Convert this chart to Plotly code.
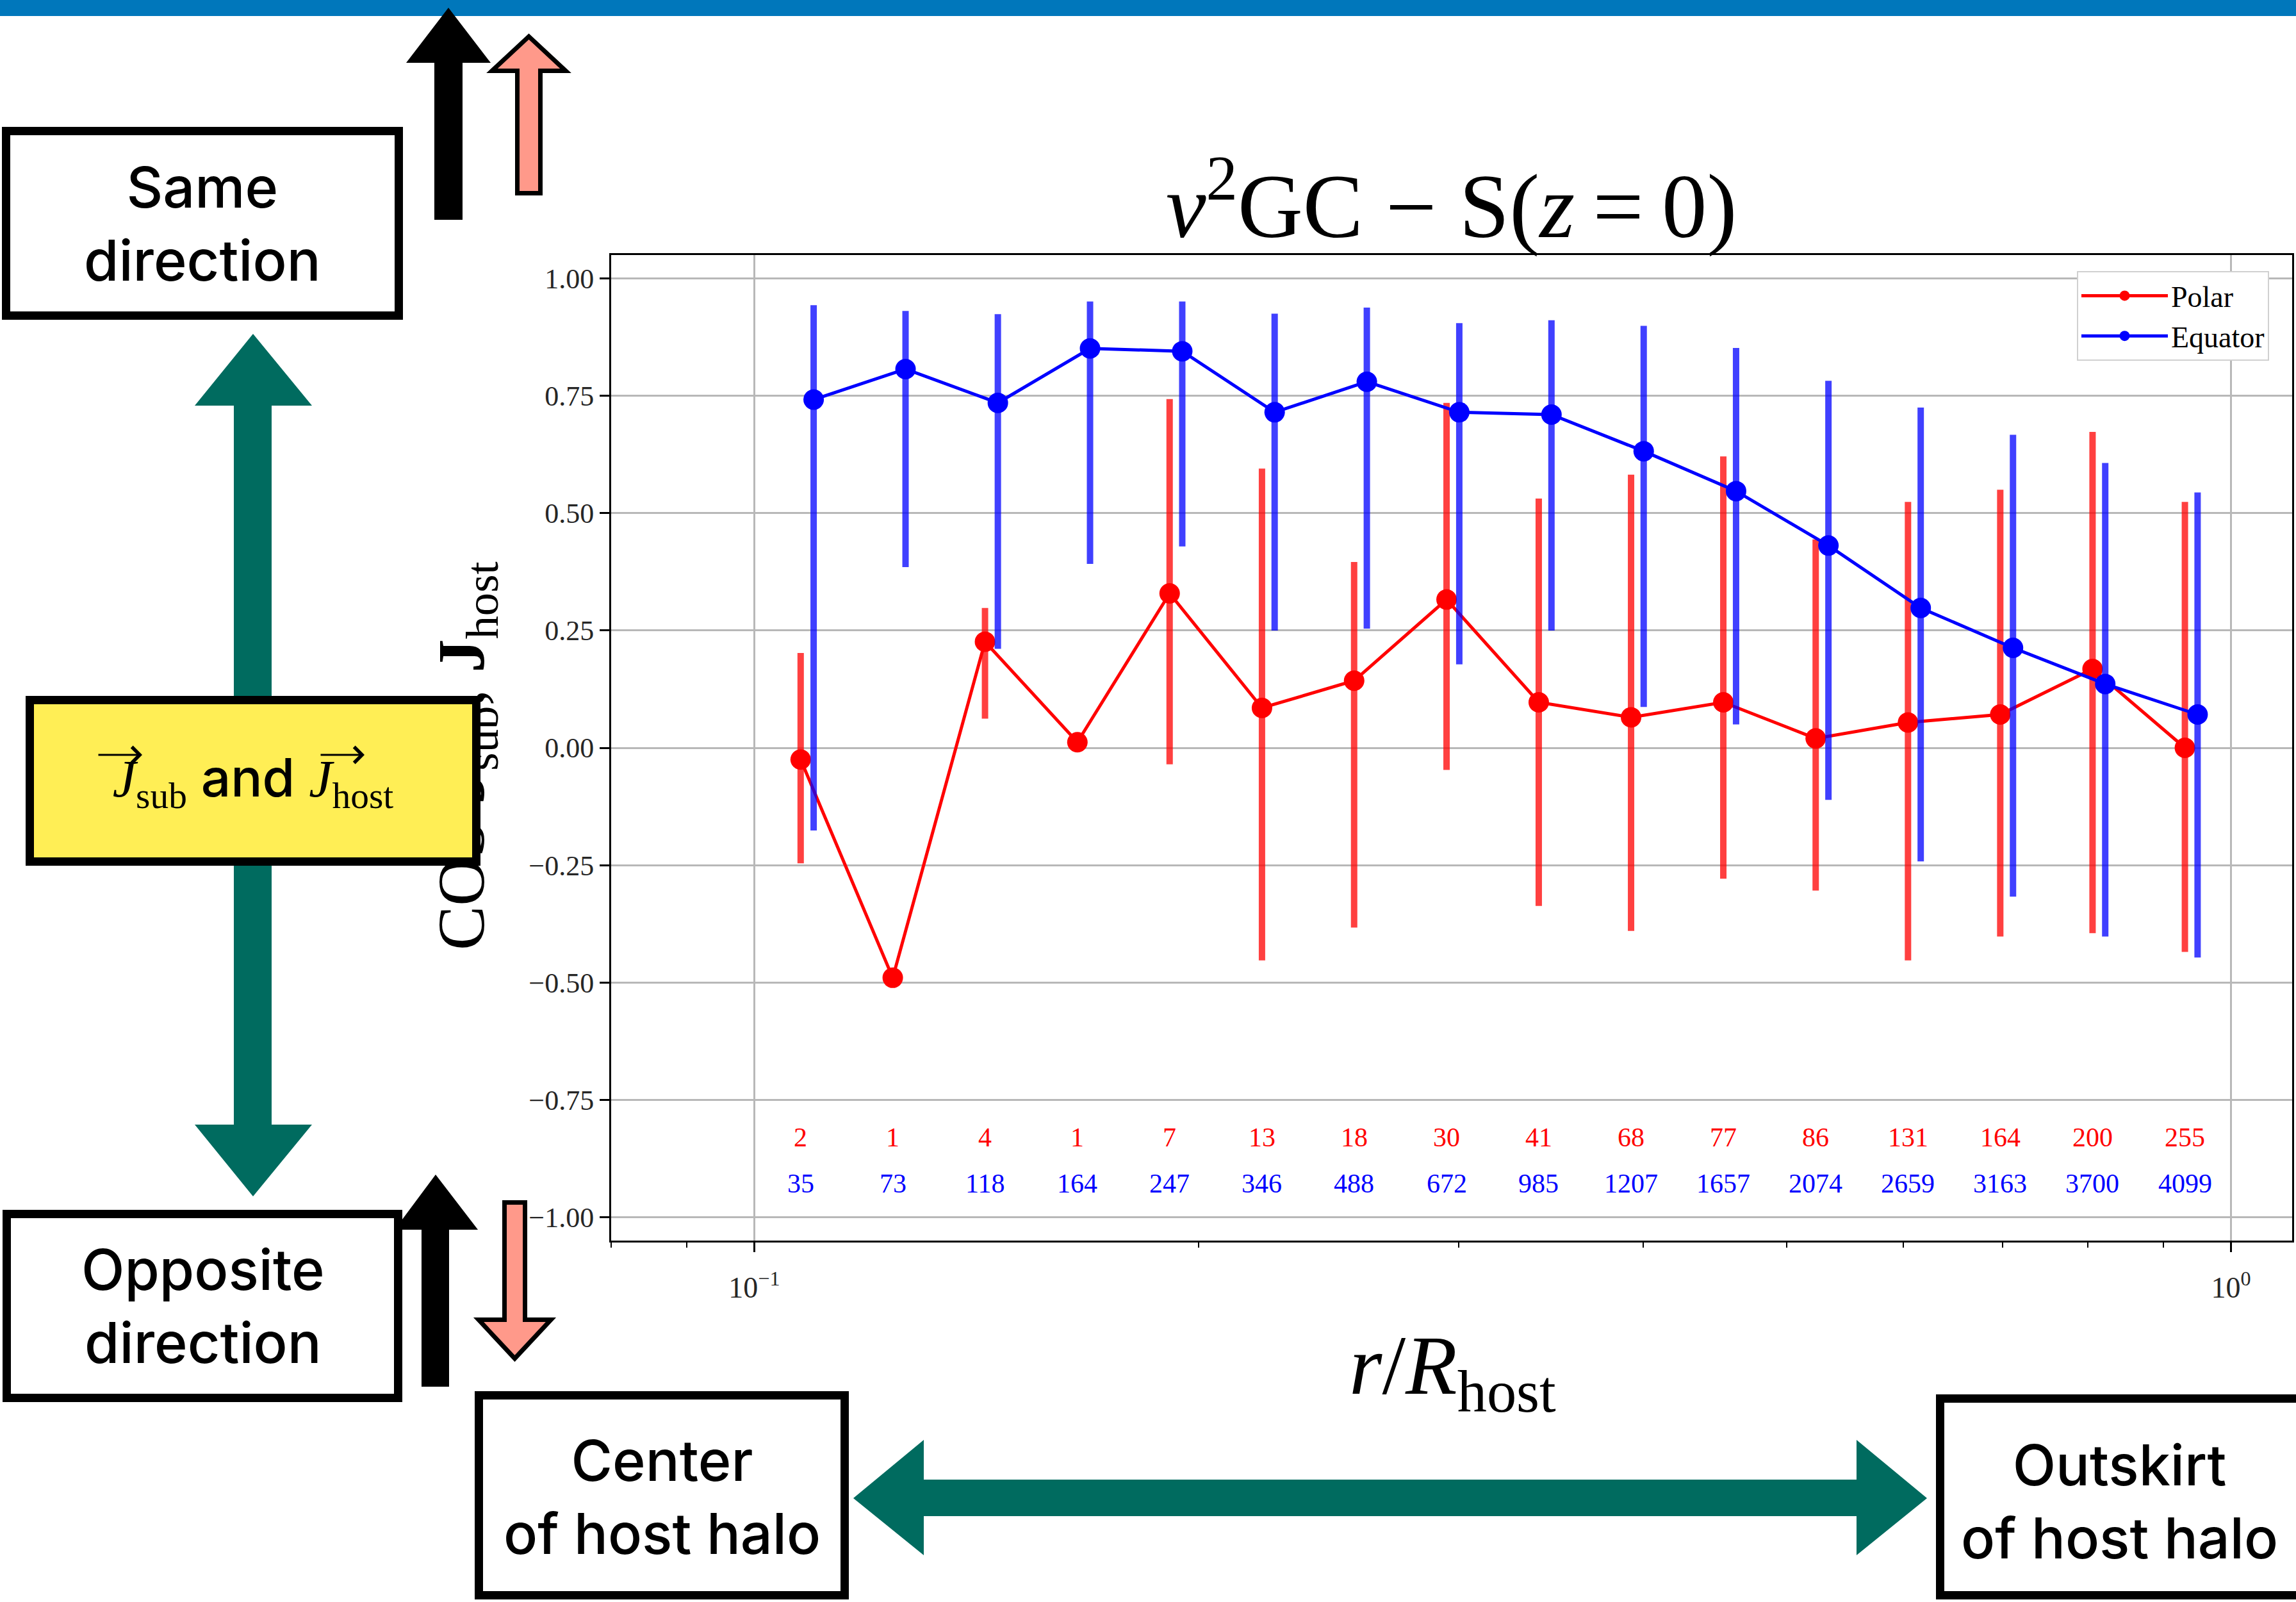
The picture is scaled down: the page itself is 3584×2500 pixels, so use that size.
import math
import plotly.graph_objects as go

W, H = 3584, 2500
SERIF = "Liberation Serif"
SANS = "Inter"

# ---------------- data ----------------
r_polar = [0.1075, 0.1241, 0.1433, 0.1655, 0.1911, 0.2207, 0.2548, 0.2943,
           0.3398, 0.3924, 0.4531, 0.5233, 0.6043, 0.6978, 0.8058, 0.9306]
r_equator = [0.1097, 0.1266, 0.1462, 0.1688, 0.1949, 0.2251, 0.2599, 0.3002,
             0.3466, 0.4002, 0.4622, 0.5338, 0.6164, 0.7118, 0.8219, 0.9492]

polar_y = [-0.025, -0.49, 0.226, 0.012, 0.329, 0.085, 0.143, 0.316,
           0.097, 0.065, 0.097, 0.020, 0.054, 0.071, 0.168, 0.0]
polar_hi = [0.202, -0.49, 0.298, 0.012, 0.743, 0.595, 0.396, 0.735,
            0.531, 0.582, 0.621, 0.444, 0.524, 0.550, 0.673, 0.524]
polar_lo = [-0.246, -0.49, 0.062, 0.012, -0.035, -0.453, -0.383, -0.047,
            -0.337, -0.390, -0.279, -0.304, -0.453, -0.402, -0.395, -0.435]

equator_y = [0.742, 0.807, 0.735, 0.851, 0.845, 0.715, 0.780, 0.715,
             0.710, 0.632, 0.547, 0.431, 0.298, 0.213, 0.136, 0.071]
equator_hi = [0.943, 0.931, 0.924, 0.951, 0.951, 0.925, 0.938, 0.905,
              0.911, 0.899, 0.852, 0.782, 0.725, 0.667, 0.607, 0.544]
equator_lo = [-0.176, 0.385, 0.211, 0.392, 0.429, 0.250, 0.254, 0.178,
              0.250, 0.087, 0.050, -0.111, -0.242, -0.317, -0.402, -0.447]

n_polar = [2, 1, 4, 1, 7, 13, 18, 30, 41, 68, 77, 86, 131, 164, 200, 255]
n_equator = [35, 73, 118, 164, 247, 346, 488, 672, 985, 1207, 1657, 2074,
             2659, 3163, 3700, 4099]
n_polar_y = -0.83
n_equator_y = -0.928

x_tickvals = [0.1, 1.0]
x_ticktext = ["10<sup>−1</sup>", "10<sup>0</sup>"]
x_minor_vals = [0.08, 0.09, 0.2, 0.3, 0.4, 0.5, 0.6, 0.7, 0.8, 0.9]
x_range = [0.08, 1.1]
y_tickvals = [-1.0, -0.75, -0.5, -0.25, 0.0, 0.25, 0.5, 0.75, 1.0]
y_ticktext = ["−1.00", "−0.75", "−0.50", "−0.25", "0.00", "0.25", "0.50", "0.75", "1.00"]
y_range = [-1.05, 1.05]

RED = "#ff0000"
BLUE = "#0000ff"
TEAL = "#006b5f"
SALMON = "#ff998a"
YELLOW = "#ffee55"
TOPBAR = "#0077bb"


def X(p):
    return p / W


def Y(p):
    return 1 - p / H


def poly(pts):
    return "M " + " L ".join(f"{X(a):.5f},{Y(b):.5f}" for a, b in pts) + " Z"


fig = go.Figure()

fig.add_trace(go.Scatter(
    x=r_polar, y=polar_y, mode="lines+markers", name="Polar",
    line=dict(color=RED, width=5),
    marker=dict(color=RED, size=32),
    error_y=dict(type="data", symmetric=False,
                 array=[h - v for h, v in zip(polar_hi, polar_y)],
                 arrayminus=[v - l for v, l in zip(polar_y, polar_lo)],
                 color="rgba(255,0,0,0.75)", thickness=10, width=0),
))
fig.add_trace(go.Scatter(
    x=r_equator, y=equator_y, mode="lines+markers", name="Equator",
    line=dict(color=BLUE, width=5),
    marker=dict(color=BLUE, size=32),
    error_y=dict(type="data", symmetric=False,
                 array=[h - v for h, v in zip(equator_hi, equator_y)],
                 arrayminus=[v - l for v, l in zip(equator_y, equator_lo)],
                 color="rgba(0,0,255,0.75)", thickness=10, width=0),
))

# ---------------- shapes ----------------
shapes = []
shapes.append(dict(type="rect", xref="paper", yref="paper",
                   x0=X(-5), x1=X(W + 5), y0=Y(0), y1=Y(25),
                   fillcolor=TOPBAR, line=dict(width=0)))
for (x0, y0, x1, y1) in [(3, 198, 629, 499), (4, 1888, 628, 2188),
                         (741, 2171, 1325, 2496), (3022, 2176, 3600, 2496)]:
    shapes.append(dict(type="rect", xref="paper", yref="paper",
                       x0=X(x0 + 6.5), x1=X(x1 - 6.5), y0=Y(y0 + 6.5), y1=Y(y1 - 6.5),
                       fillcolor="white", line=dict(color="black", width=13)))
shapes.append(dict(type="path", xref="paper", yref="paper",
                   path=poly([(395, 521), (487, 633), (424, 633), (424, 1755), (487, 1755),
                              (395, 1867), (304, 1755), (365, 1755), (365, 633), (304, 633)]),
                   fillcolor=TEAL, line=dict(width=0)))
shapes.append(dict(type="path", xref="paper", yref="paper",
                   path=poly([(1332, 2338), (1442, 2247), (1442, 2309), (2898, 2309), (2898, 2247),
                              (3008, 2338), (2898, 2427), (2898, 2366), (1442, 2366), (1442, 2427)]),
                   fillcolor=TEAL, line=dict(width=0)))
shapes.append(dict(type="path", xref="paper", yref="paper",
                   path=poly([(678, 343), (678, 98), (634, 98), (700, 12), (766, 98),
                              (722, 98), (722, 343)]),
                   fillcolor="black", line=dict(width=0)))
shapes.append(dict(type="path", xref="paper", yref="paper",
                   path=poly([(658, 2164), (658, 1919), (616, 1919), (680, 1833), (746, 1919),
                              (701, 1919), (701, 2164)]),
                   fillcolor="black", line=dict(width=0)))
shapes.append(dict(type="path", xref="paper", yref="paper",
                   path=poly([(807.5, 301.5), (807.5, 110.5), (768, 110.5), (825.5, 57),
                              (883, 110.5), (843.5, 110.5), (843.5, 301.5)]),
                   fillcolor=SALMON, line=dict(color="black", width=7)))
shapes.append(dict(type="path", xref="paper", yref="paper",
                   path=poly([(787.5, 1876.5), (787.5, 2059.5), (747, 2059.5), (803.5, 2120),
                              (860, 2059.5), (819.5, 2059.5), (819.5, 1876.5)]),
                   fillcolor=SALMON, line=dict(color="black", width=7)))

# ---------------- annotations ----------------
ann = []
for xv, n in zip(r_polar, n_polar):
    ann.append(dict(x=math.log10(xv), y=n_polar_y, xref="x", yref="y", text=str(n),
                    showarrow=False, xanchor="center", yanchor="middle",
                    font=dict(family=SERIF, size=42, color=RED)))
for xv, n in zip(r_polar, n_equator):
    ann.append(dict(x=math.log10(xv), y=n_equator_y, xref="x", yref="y", text=str(n),
                    showarrow=False, xanchor="center", yanchor="middle",
                    font=dict(family=SERIF, size=42, color=BLUE)))
ann.append(dict(x=X(2266), y=Y(312), xref="paper", yref="paper",
                text="<i>ν</i><sup>2</sup>GC − S(<i>z</i>\u2009=\u20090)",
                showarrow=False, xanchor="center", yanchor="middle",
                font=dict(family=SERIF, size=141, color="black")))
ann.append(dict(x=X(2267), y=Y(2140), xref="paper", yref="paper",
                text="<i>r</i>/<i>R</i><sub>host</sub>",
                showarrow=False, xanchor="center", yanchor="middle",
                font=dict(family=SERIF, size=132, color="black")))
# y-axis title (partly hidden by the yellow box)
ann.append(dict(x=X(727), y=Y(1180), xref="paper", yref="paper",
                text="COS <b>J</b><sub>sub</sub>, <b>J</b><sub>host</sub>",
                textangle=-90, showarrow=False, xanchor="center", yanchor="middle",
                font=dict(family=SERIF, size=104, color="black")))
for (cx, cy, txt) in [(316, 349, "Same<br>direction"), (317, 2038, "Opposite<br>direction"),
                      (1033, 2336, "Center<br>of host halo"), (3308, 2343, "Outskirt<br>of host halo")]:
    ann.append(dict(x=X(cx), y=Y(cy), xref="paper", yref="paper", text=txt,
                    showarrow=False, xanchor="center", yanchor="middle", align="center",
                    font=dict(family=SANS, size=88, color="black", weight=500)))
ann.append(dict(x=X(395), y=Y(1218.5), xref="paper", yref="paper",
                text=("<span style=\"font-family:Liberation Serif\"><i>J</i><sub>sub</sub></span>"
                      " and "
                      "<span style=\"font-family:Liberation Serif\"><i>J</i><sub>host</sub></span>"),
                showarrow=False, xanchor="center", yanchor="middle", align="center", valign="middle",
                width=684, height=239, bgcolor=YELLOW, bordercolor="black", borderwidth=13, borderpad=0,
                font=dict(family=SANS, size=82, color="black", weight=500)))
for (x_head, x_tail) in [(222, 152), (569, 499)]:
    ann.append(dict(x=X(x_head), y=Y(1178), xref="paper", yref="paper", text="",
                    showarrow=True, ax=x_tail - x_head, ay=0, axref="pixel", ayref="pixel",
                    arrowhead=4, arrowsize=1.6, arrowwidth=3, arrowcolor="black",
                    standoff=0, startstandoff=0))

axis_common = dict(showline=True, linewidth=3, linecolor="black", mirror=True,
                   ticks="outside", ticklen=15, tickwidth=2.5, tickcolor="black",
                   showgrid=True, gridcolor="#b8b8b8", gridwidth=2.5, zeroline=False)

fig.update_layout(
    width=W, height=H,
    margin=dict(l=0, r=0, t=0, b=0),
    paper_bgcolor="white", plot_bgcolor="white",
    font=dict(family=SERIF, color="black"),
    xaxis=dict(type="log", range=[math.log10(x_range[0]), math.log10(x_range[1])],
               domain=[X(954), X(3578)], tickmode="array", tickvals=x_tickvals,
               ticktext=x_ticktext, tickfont=dict(family=SERIF, size=46, color="#262626"),
               ticklabelstandoff=16,
               minor=dict(tickmode="array", tickvals=x_minor_vals, ticks="outside",
                          ticklen=8, tickwidth=2, tickcolor="black", showgrid=False),
               **axis_common),
    yaxis=dict(range=y_range, domain=[Y(1936), Y(398)], tickmode="array",
               tickvals=y_tickvals, ticktext=y_ticktext,
               tickfont=dict(family=SERIF, size=44, color="#262626"),
               **axis_common),
    legend=dict(x=X(3242), y=Y(423), xanchor="left", yanchor="top",
                bgcolor="white", bordercolor="#d0d0d0", borderwidth=2,
                font=dict(family=SERIF, size=46, color="black"), itemwidth=135),
    shapes=shapes,
    annotations=ann,
    showlegend=True,
)

fig.write_html("out.html", config={"displayModeBar": False})
